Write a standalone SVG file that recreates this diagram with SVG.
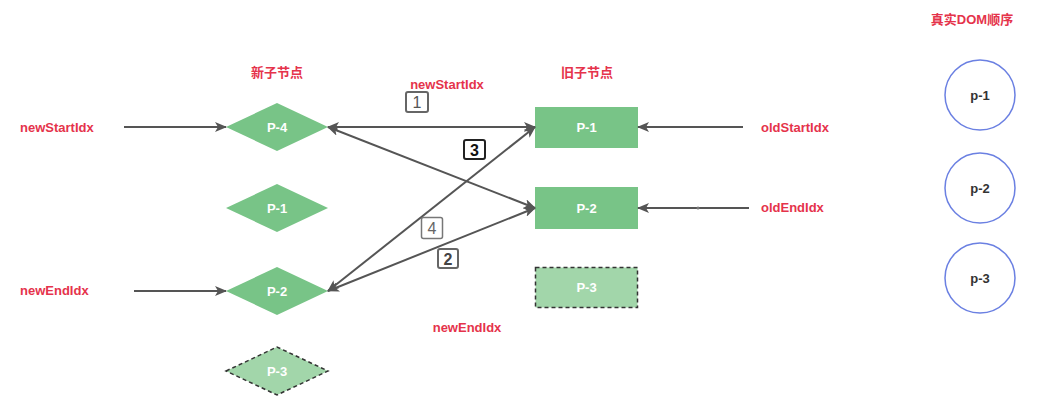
<svg xmlns="http://www.w3.org/2000/svg" width="1047" height="410" viewBox="0 0 1047 410">
  <style>
    .lbl { font-family: "Liberation Sans", "Noto Sans CJK SC", sans-serif; font-weight: bold; font-size: 13px; fill: #e5334b; }
    .node-text { font-family: "Liberation Sans", sans-serif; font-weight: bold; font-size: 13px; fill: #ffffff; text-anchor: middle; dominant-baseline: central; }
    .dom-text { font-family: "Liberation Sans", sans-serif; font-weight: bold; font-size: 13px; fill: #333333; text-anchor: middle; dominant-baseline: central; }
    .solid { fill: #78c487; stroke: none; }
    .ghost { fill: #a2d6aa; stroke: #333333; stroke-width: 1.5; stroke-dasharray: 4 3; }
    .dom { fill: #ffffff; stroke: #6b80e2; stroke-width: 1.5; }
    .conn { stroke: #555555; stroke-width: 2; fill: none; }
    .badge { fill: #ffffff; rx: 2; }
    .badge-text { font-family: "Liberation Sans", sans-serif; font-size: 16px; text-anchor: middle; dominant-baseline: central; }
  </style>
  <defs>
    <marker id="arrow" viewBox="0 0 12 10" refX="11" refY="5" markerWidth="12" markerHeight="10" markerUnits="userSpaceOnUse" orient="auto-start-reverse">
      <path d="M0,0 L12,5 L0,10 L3,5 z" fill="#555555"/>
    </marker>
  </defs>

  <rect width="1047" height="410" fill="#ffffff"/>

  <!-- headings and pointer labels -->
  <g id="labels">
    <text class="lbl" x="277" y="77" text-anchor="middle">新子节点</text>
    <text class="lbl" x="587" y="77" text-anchor="middle">旧子节点</text>
    <text class="lbl" x="972" y="24" text-anchor="middle">真实DOM顺序</text>
    <text class="lbl" x="20" y="132">newStartIdx</text>
    <text class="lbl" x="20" y="295">newEndIdx</text>
    <text class="lbl" x="447" y="89" text-anchor="middle">newStartIdx</text>
    <text class="lbl" x="467" y="332" text-anchor="middle">newEndIdx</text>
    <text class="lbl" x="761" y="132">oldStartIdx</text>
    <text class="lbl" x="761" y="212">oldEndIdx</text>
  </g>

  <!-- new children (diamonds) -->
  <g id="new-p4">
    <polygon class="solid" points="226,127 277,103 328,127 277,151"/>
    <text class="node-text" x="277" y="127">P-4</text>
  </g>
  <g id="new-p1">
    <polygon class="solid" points="226,208 277,184 328,208 277,232"/>
    <text class="node-text" x="277" y="208">P-1</text>
  </g>
  <g id="new-p2">
    <polygon class="solid" points="226,291 277,267 328,291 277,315"/>
    <text class="node-text" x="277" y="291">P-2</text>
  </g>
  <g id="new-p3">
    <polygon class="ghost" points="226,371 277,347 328,371 277,395"/>
    <text class="node-text" x="277" y="371">P-3</text>
  </g>

  <!-- old children (rectangles) -->
  <g id="old-p1">
    <rect class="solid" x="535" y="107" width="103" height="41"/>
    <text class="node-text" x="586.5" y="127.5">P-1</text>
  </g>
  <g id="old-p2">
    <rect class="solid" x="535" y="187" width="103" height="42"/>
    <text class="node-text" x="586.5" y="208">P-2</text>
  </g>
  <g id="old-p3">
    <rect class="ghost" x="535.5" y="267.5" width="102" height="40"/>
    <text class="node-text" x="586.5" y="287.5">P-3</text>
  </g>

  <!-- real DOM order -->
  <g id="dom-p1">
    <circle class="dom" cx="980" cy="95" r="35"/>
    <text class="dom-text" x="980" y="95">p-1</text>
  </g>
  <g id="dom-p2">
    <circle class="dom" cx="980" cy="188" r="35"/>
    <text class="dom-text" x="980" y="188">p-2</text>
  </g>
  <g id="dom-p3">
    <circle class="dom" cx="980" cy="278" r="35"/>
    <text class="dom-text" x="980" y="278">p-3</text>
  </g>

  <!-- connectors -->
  <g id="connectors">
    <line class="conn" x1="124" y1="127" x2="226" y2="127" marker-end="url(#arrow)"/>
    <line class="conn" x1="134" y1="291" x2="226" y2="291" marker-end="url(#arrow)"/>
    <line class="conn" x1="743" y1="127" x2="638" y2="127" marker-end="url(#arrow)"/>
    <line class="conn" x1="749" y1="208" x2="638" y2="208" marker-end="url(#arrow)"/>
    <circle cx="698" cy="208" r="1.5" fill="#777777"/>

    <line class="conn" x1="328" y1="127" x2="535" y2="127" marker-start="url(#arrow)" marker-end="url(#arrow)"/>
    <line class="conn" x1="328" y1="127" x2="535" y2="208" marker-start="url(#arrow)" marker-end="url(#arrow)"/>
    <line class="conn" x1="328" y1="291" x2="535" y2="127" marker-start="url(#arrow)" marker-end="url(#arrow)"/>
    <line class="conn" x1="328" y1="291" x2="535" y2="208" marker-start="url(#arrow)" marker-end="url(#arrow)"/>
  </g>

  <!-- step badges -->
  <g id="step-1">
    <rect class="badge" x="406" y="92" width="22" height="20" stroke="#666666" stroke-width="2"/>
    <text class="badge-text" x="417" y="102.5" fill="#555555">1</text>
  </g>
  <g id="step-2">
    <rect class="badge" x="438" y="249" width="20" height="19" stroke="#666666" stroke-width="2"/>
    <text class="badge-text" x="448" y="259" fill="#444444" font-weight="bold">2</text>
  </g>
  <g id="step-3">
    <rect class="badge" x="464" y="140" width="21" height="19" stroke="#222222" stroke-width="2"/>
    <text class="badge-text" x="474.5" y="150" fill="#111111" font-weight="bold">3</text>
  </g>
  <g id="step-4">
    <rect class="badge" x="421.5" y="217.5" width="21" height="21" stroke="#777777" stroke-width="1.5"/>
    <text class="badge-text" x="432" y="228.5" fill="#666666">4</text>
  </g>
</svg>
